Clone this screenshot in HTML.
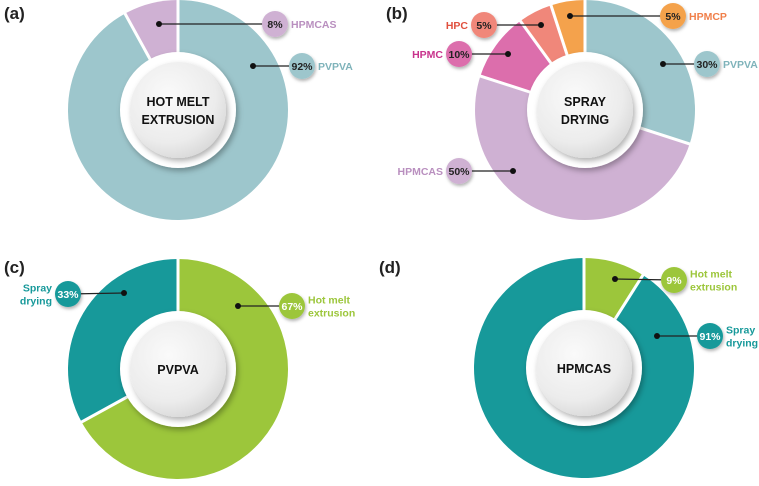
<!DOCTYPE html>
<html><head><meta charset="utf-8"><style>
html,body{margin:0;padding:0;background:#fff;}
svg{display:block;font-family:"Liberation Sans",sans-serif;}
</style></head><body>
<svg id="s" width="759" height="486" viewBox="0 0 759 486" xmlns="http://www.w3.org/2000/svg">
<defs>
<radialGradient id="g" cx="0.4" cy="0.35" r="0.7"><stop offset="0" stop-color="#fafafa"/><stop offset="0.7" stop-color="#ececec"/><stop offset="1" stop-color="#d8d8d8"/></radialGradient>
<filter id="sh" x="-30%" y="-30%" width="160%" height="160%"><feDropShadow dx="2" dy="3" stdDeviation="3" flood-color="#000" flood-opacity="0.3"/></filter>
<filter id="sh2" x="-30%" y="-30%" width="160%" height="160%"><feDropShadow dx="1" dy="2" stdDeviation="1.5" flood-color="#000" flood-opacity="0.3"/></filter>
</defs>
<g font-weight="bold" font-size="17" fill="#222">
<text x="4" y="19">(a)</text><text x="386" y="19">(b)</text><text x="4" y="273">(c)</text><text x="379" y="273">(d)</text>
</g>
</svg>
<script>
const s=document.getElementById('s');const NS='http://www.w3.org/2000/svg';
function el(t,a,txt){const e=document.createElementNS(NS,t);for(const k in a)e.setAttribute(k,a[k]);if(txt!==undefined)e.textContent=txt;s.appendChild(e);return e;}
function pt(cx,cy,r,deg){const a=(deg-90)*Math.PI/180;return [cx+r*Math.cos(a),cy+r*Math.sin(a)];}
function donut(cx,cy,segs,title){
 const R=110,ri=58;let a0=0;
 segs.forEach(([p,c])=>{const a1=a0+p*3.6;const [x0,y0]=pt(cx,cy,R,a0),[x1,y1]=pt(cx,cy,R,a1);
  el('path',{d:`M${cx},${cy}L${x0},${y0}A${R},${R} 0 ${a1-a0>180?1:0} 1 ${x1},${y1}Z`,fill:c});a0=a1;});
 a0=0;segs.forEach(([p])=>{const [x,y]=pt(cx,cy,R+2,a0);el('line',{x1:cx,y1:cy,x2:x,y2:y,stroke:'#fff','stroke-width':3});a0+=p*3.6;});
 el('circle',{cx,cy,r:ri,fill:'#fff',filter:'url(#sh)'});
 el('circle',{cx,cy,r:48,fill:'url(#g)',filter:'url(#sh)'});
 const lines=title.split('|');lines.forEach((l,i)=>el('text',{x:cx,y:cy+5+(i-(lines.length-1)/2)*18,'text-anchor':'middle','font-size':12.5,'font-weight':'bold',fill:'#111'},l));
}
function lab(dx,dy,bx,by,c,pct,txt,side,tc,lc){
 el('line',{x1:dx,y1:dy,x2:bx,y2:by,stroke:'#222','stroke-width':1.3});
 el('circle',{cx:dx,cy:dy,r:3,fill:'#111'});
 el('circle',{cx:bx,cy:by,r:13,fill:c,filter:'url(#sh2)'});
 el('text',{x:bx,y:by+4,'text-anchor':'middle','font-size':10.5,'font-weight':'bold',fill:tc||'#222'},pct);
 const ls=txt.split('|');const x=side>0?bx+16:bx-16;
 ls.forEach((l,i)=>el('text',{x,y:by+4+(i-(ls.length-1)/2)*13,'text-anchor':side>0?'start':'end','font-size':10.5,'font-weight':'bold',fill:lc||c},l));
}
const TL='#9dc6cc',LI='#cfb1d3',PK='#dc6eac',SA='#f0877a',OR='#f4a24c',GR='#9cc63b',TE='#17999a';
donut(178,110,[[92,TL],[8,LI]],'HOT MELT|EXTRUSION');
donut(585,110,[[30,TL],[50,LI],[10,PK],[5,SA],[5,OR]],'SPRAY|DRYING');
donut(178,369,[[67,GR],[33,TE]],'PVPVA');
donut(584,368,[[9,GR],[91,TE]],'HPMCAS');
lab(159,24,275,24,LI,'8%','HPMCAS',1,null,'#b98fbf');
lab(253,66,302,66,TL,'92%','PVPVA',1,null,'#7fb3ba');
lab(570,16,673,16,OR,'5%','HPMCP',1,null,'#f07f4a');
lab(541,25,484,25,SA,'5%','HPC',-1,null,'#e0503e');
lab(508,54,459,54,PK,'10%','HPMC',-1,null,'#c8338c');
lab(663,64,707,64,TL,'30%','PVPVA',1,null,'#7fb3ba');
lab(513,171,459,171,LI,'50%','HPMCAS',-1,null,'#b98fbf');
lab(124,293,68,294,TE,'33%','Spray|drying',-1,'#fff');
lab(238,306,292,306,GR,'67%','Hot melt|extrusion',1,'#fff');
lab(615,279,674,280,GR,'9%','Hot melt|extrusion',1,'#fff');
lab(657,336,710,336,TE,'91%','Spray|drying',1,'#fff');
</script>
</body></html>
